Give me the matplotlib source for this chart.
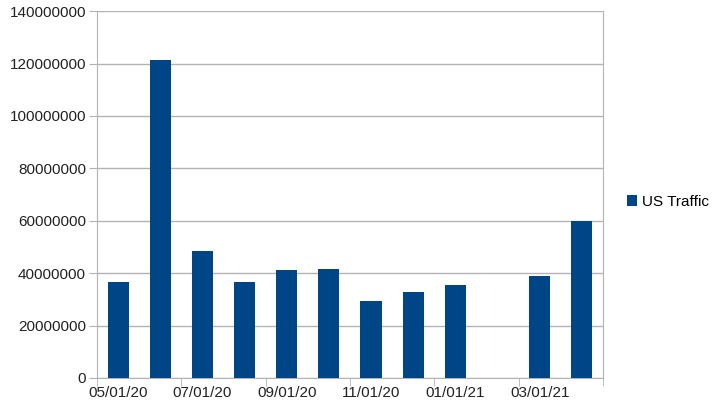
import numpy as np
import matplotlib.pyplot as plt

plt.rcParams['font.family'] = ['Liberation Sans', 'DejaVu Sans']

# monthly US traffic, 02/01/21 has no value
months = ['05/01/20', '06/01/20', '07/01/20', '08/01/20', '09/01/20', '10/01/20',
          '11/01/20', '12/01/20', '01/01/21', '02/01/21', '03/01/21', '04/01/21']
traffic = [36500000, 121200000, 48500000, 36500000, 41200000, 41600000,
           29300000, 32900000, 35500000, np.nan, 38900000, 60000000]

bar_color = '#004586'
grid_color = '#b3b3b3'

fig = plt.figure(figsize=(7.16, 4.11), dpi=100)
ax = fig.add_axes([0.1355, 0.0803, 0.7065, 0.8927])

x = np.arange(len(months))
vals = np.array(traffic, dtype=float)
ax.bar(x, np.nan_to_num(vals), width=0.5, color=bar_color, label='US Traffic', zorder=3)

ax.set_xlim(-0.5, len(months) - 0.5)
ax.set_ylim(0, 140000000)
ax.set_yticks(np.arange(0, 140000001, 20000000))
ax.set_yticklabels([str(v) for v in range(0, 140000001, 20000000)], fontsize=11, color='#222222')

# labels under every second month, tick marks on the boundaries
ax.set_xticks(x[::2])
ax.set_xticklabels(months[::2], fontsize=11, color='#222222')
ax.tick_params(axis='x', which='major', length=0, pad=6)
ax.set_xticks(np.arange(-0.5, len(months), 2), minor=True)
ax.tick_params(axis='x', which='minor', length=6, color=grid_color)
ax.tick_params(axis='y', length=6, color=grid_color, pad=2)

ax.yaxis.grid(True, color=grid_color, linewidth=1, zorder=0)
for s in ['left', 'right', 'bottom', 'top']:
    ax.spines[s].set_color(grid_color)
ax.spines['top'].set_visible(False)

ax.legend(loc='center left', bbox_to_anchor=(1.02, 0.48), frameon=False, fontsize=11,
          handlelength=0.7, handleheight=0.7, handletextpad=0.3)

fig.savefig('out.png', dpi=100)
